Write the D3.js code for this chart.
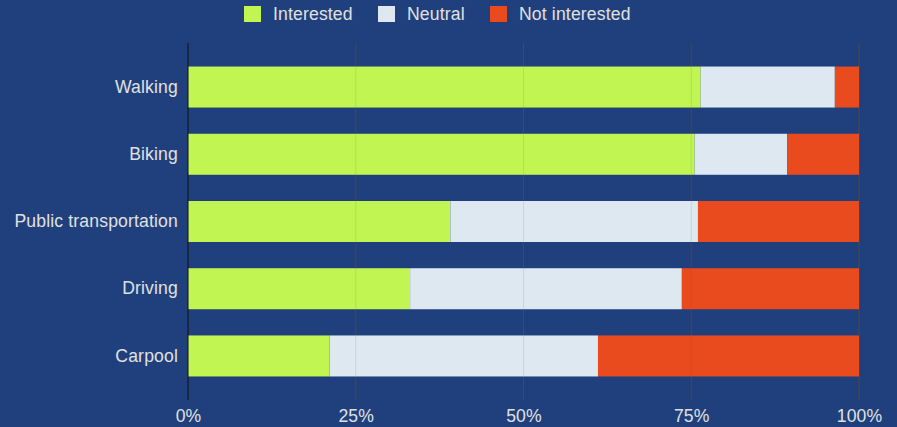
<!DOCTYPE html>
<html><head><meta charset="utf-8">
<script src="https://cdn.jsdelivr.net/npm/d3@7"></script>
<style>
html,body{margin:0;padding:0;background:#1f407c;}
svg{display:block;}
text{font-family:"Liberation Sans",Arial,sans-serif;}
</style></head>
<body><svg id="chart" width="897" height="427"></svg>
<script>
const categories = ["Walking","Biking","Public transportation","Driving","Carpool"];
const seriesNames = ["Interested","Neutral","Not interested"];
const interested = [76.4, 75.5, 39.1, 33.1, 21.1];
const neutral = [20.0, 13.8, 36.9, 40.5, 40.0];
const notInterested = [3.6, 10.7, 24.0, 26.4, 38.9];
const tickLabels = ["0%","25%","50%","75%","100%"];
const colors = ["#c0f552","#dde8f1","#e94b1f"];

const rows = categories.map((c,i)=>({cat:c, Interested:interested[i], Neutral:neutral[i], "Not interested":notInterested[i]}));
const stack = d3.stack().keys(seriesNames)(rows);

const svg = d3.select("#chart");
const x = d3.scaleLinear().domain([0,100]).range([188,859]);
const y = d3.scaleBand().domain(categories).range([43,400]).paddingInner(0.39).paddingOuter(0.35);
const color = d3.scaleOrdinal().domain(seriesNames).range(colors);
const FS = 17.6;
const LS = "0.15px";
const textCol = "#e0e0e0";

// gridlines
svg.append("g").selectAll("line").data([25,50,75,100]).join("line")
  .attr("x1",d=>x(d)).attr("x2",d=>x(d)).attr("y1",43).attr("y2",400)
  .attr("stroke","#4a4a4a").attr("stroke-width",1);

// bars
svg.append("g").selectAll("g").data(stack).join("g")
  .attr("fill",d=>color(d.key))
  .selectAll("rect").data(d=>d).join("rect")
  .attr("x",d=>x(d[0])).attr("width",d=>x(d[1])-x(d[0]))
  .attr("y",d=>y(d.data.cat)).attr("height",y.bandwidth());

// gridlines faintly over bars
svg.append("g").selectAll("line").data([25,50,75]).join("line")
  .attr("x1",d=>x(d)).attr("x2",d=>x(d)).attr("y1",43).attr("y2",400)
  .attr("stroke","#4a4a4a").attr("stroke-opacity",0.12).attr("stroke-width",1);

// zero axis line
svg.append("line").attr("x1",x(0)).attr("x2",x(0)).attr("y1",43).attr("y2",400)
  .attr("stroke","#111").attr("stroke-width",1);

// y axis labels
const yAxis = d3.axisLeft(y).tickSize(0).tickPadding(10);
const gy = svg.append("g").attr("transform",`translate(${x(0)},0)`).call(yAxis);
gy.select(".domain").remove();
gy.selectAll("text").attr("fill",textCol).attr("font-size",FS).attr("letter-spacing",LS)
  .attr("font-family","'Liberation Sans',Arial,sans-serif");

// x axis labels
const xAxis = d3.axisBottom(x).tickValues([0,25,50,75,100]).tickFormat((d,i)=>tickLabels[i]).tickSize(0).tickPadding(10);
const gx = svg.append("g").attr("transform","translate(0,400)").call(xAxis);
gx.select(".domain").remove();
gx.selectAll("text").attr("fill",textCol).attr("font-size",FS).attr("letter-spacing",LS)
  .attr("font-family","'Liberation Sans',Arial,sans-serif");

// legend
const legX = [244, 378, 490];
const leg = svg.append("g").selectAll("g").data(seriesNames).join("g")
  .attr("transform",(d,i)=>`translate(${legX[i]},6)`);
leg.append("rect").attr("width",17).attr("height",16).attr("fill",d=>color(d));
leg.append("text").attr("x",29).attr("y",8).attr("dy","0.35em").attr("letter-spacing",LS)
  .attr("fill",textCol).attr("font-size",FS).text(d=>d);
</script></body></html>
